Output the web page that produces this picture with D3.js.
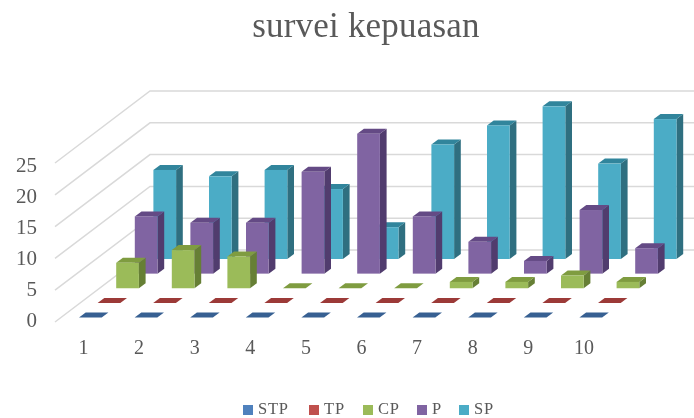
<!DOCTYPE html>
<html lang="en">
<head>
    <meta charset="UTF-8">
    <title>survei kepuasan</title>
    <style>
        html, body { margin: 0; padding: 0; background: #fff; }
        svg { display: block; filter: blur(0.5px); }
        text { font-family: "Liberation Serif", serif; fill: #595959; }
    </style>
</head>
<body>
    <svg id="chart" width="694" height="418"></svg>
    <script src="https://cdn.jsdelivr.net/npm/d3@7/dist/d3.min.js"></script>
    <script>
        const categories = ["1", "2", "3", "4", "5", "6", "7", "8", "9", "10"]
        const seriesNames = ["STP", "TP", "CP", "P", "SP"]
        const yTicks = [0, 5, 10, 15, 20, 25]

        const stp = [0, 0, 0, 0, 0, 0, 0, 0, 0, 0]
        const tp = [0, 0, 0, 0, 0, 0, 0, 0, 0, 0]
        const cp = [4, 6, 5, 0, 0, 0, 1, 1, 2, 1]
        const p = [9, 8, 8, 16, 22, 9, 5, 2, 10, 4]
        const sp = [14, 13, 14, 11, 5, 18, 21, 24, 15, 22]

        const seriesValues = [stp, tp, cp, p, sp]
        const front = ["#4f81bd", "#c0504d", "#9bbb59", "#8064a2", "#4bacc6"]
        const side = ["#2f5580", "#84322f", "#667f35", "#513c6e", "#2f6f80"]
        const top_ = ["#376092", "#9c3a38", "#7f9c40", "#644a85", "#31859c"]

        const svg = d3.select("#chart")

        const x = d3.scaleBand().domain(categories).range([79, 79 + 556]).paddingInner(0).paddingOuter(0).align(0)
        const depthX = d3.scaleLinear().domain([0, 4]).range([0, 74.4])
        const depthY = d3.scaleLinear().domain([0, 4]).range([317.5, 259])
        const h = d3.scaleLinear().domain([0, 25]).range([0, 159])
        const labelY = d3.scaleLinear().domain([0, 25]).range([327, 172])

        const barW = 22.7, offX = 6.7, offY = 5

        // walls
        const grid = svg.append("g").attr("stroke", "#d9d9d9").attr("stroke-width", 1.5).attr("fill", "none")
        yTicks.forEach(t => {
            grid.append("polyline")
                .attr("points", `55,${322 - h(t)} 150,${250 - h(t)} 694,${250 - h(t)}`)
        })

        // back series first so the front ones cover them
        const bars = svg.append("g")
        for (let s = seriesNames.length - 1; s >= 0; s--) {
            categories.forEach((c, i) => {
                const v = seriesValues[s][i]
                const x0 = x(c) + depthX(s)
                const y0 = depthY(s)
                const y1 = y0 - h(v)
                const x1 = x0 + barW
                const g = bars.append("g")
                g.append("polygon").attr("fill", side[s])
                    .attr("points", `${x1},${y0} ${x1 + offX},${y0 - offY} ${x1 + offX},${y1 - offY} ${x1},${y1}`)
                g.append("polygon").attr("fill", top_[s])
                    .attr("points", `${x0},${y1} ${x1},${y1} ${x1 + offX},${y1 - offY} ${x0 + offX},${y1 - offY}`)
                if (v > 0) {
                    g.append("rect").attr("fill", front[s])
                        .attr("x", x0).attr("y", y1).attr("width", barW).attr("height", h(v))
                }
            })
        }

        svg.append("text").attr("x", 366).attr("y", 37).attr("text-anchor", "middle")
            .style("font-size", "35px").style("letter-spacing", "0.2px").text("survei kepuasan")

        svg.append("g").selectAll("text").data(yTicks).join("text")
            .attr("x", 37).attr("y", d => labelY(d)).attr("text-anchor", "end")
            .style("font-size", "21px").text(d => d)

        svg.append("g").selectAll("text").data(categories).join("text")
            .attr("x", d => x(d) + 4.5).attr("y", 354).attr("text-anchor", "middle")
            .style("font-size", "20px").text(d => d)

        // legend
        const legendX = [243, 309, 363, 417, 459]
        const legend = svg.append("g").selectAll("g").data(seriesNames).join("g")
            .attr("transform", (d, i) => `translate(${legendX[i]},405)`)
        legend.append("rect").attr("width", 10).attr("height", 10).attr("fill", (d, i) => front[i])
        legend.append("text").attr("x", 15).attr("y", 9.4).style("font-size", "16.5px")
            .style("letter-spacing", "0.8px").text(d => d)
    </script>
</body>
</html>
